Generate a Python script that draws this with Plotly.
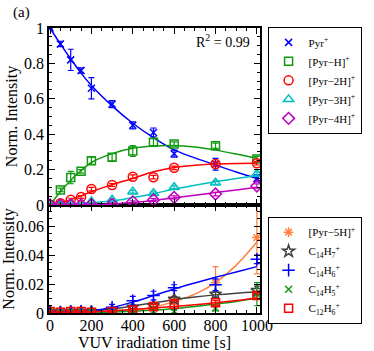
import plotly.graph_objects as go

# measured time points [s]
t = [0, 50, 100, 150, 200, 300, 400, 500, 600, 800, 1000]
# fit curves at these times
tf = [0, 50, 100, 150, 200, 300, 400, 500, 600, 700, 800, 900, 1000]

# ---- top panel ----
pyr = [1.0, 0.91, 0.82, 0.76, 0.66, 0.57, 0.45, 0.41, 0.29, 0.23, 0.15]
pyr_err = [0.005, 0.015, 0.06, 0.015, 0.06, 0.02, 0.02, 0.025, 0.02, 0.033, 0.02]
pyr_fit = [1.0, 0.91, 0.825, 0.745, 0.675, 0.56, 0.462, 0.38, 0.311, 0.266, 0.226, 0.186, 0.15]

pyr_h = [0.0, 0.085, 0.155, 0.19, 0.25, 0.27, 0.305, 0.355, 0.345, 0.335, 0.26]
pyr_h_err = [0.005, 0.01, 0.035, 0.01, 0.02, 0.02, 0.03, 0.02, 0.012, 0.015, 0.015]
pyr_h_fit = [0.0, 0.075, 0.14, 0.195, 0.24, 0.29, 0.32, 0.333, 0.336, 0.327, 0.31, 0.288, 0.264]

pyr_2h = [0.0, 0.01, 0.03, 0.045, 0.09, 0.113, 0.16, 0.157, 0.21, 0.232, 0.236]
pyr_2h_err = [0.005, 0.005, 0.008, 0.008, 0.01, 0.008, 0.01, 0.01, 0.01, 0.012, 0.01]
pyr_2h_fit = [0.0, 0.012, 0.03, 0.052, 0.075, 0.115, 0.15, 0.188, 0.212, 0.224, 0.231, 0.235, 0.236]

pyr_3h = [0.0, 0.0, 0.002, 0.005, 0.02, 0.03, 0.075, 0.066, 0.1, 0.126, 0.175]
pyr_3h_err = [0.003, 0.003, 0.003, 0.004, 0.005, 0.006, 0.008, 0.008, 0.008, 0.01, 0.012]
pyr_3h_fit = [0.0, 0.001, 0.003, 0.008, 0.013, 0.022, 0.042, 0.064, 0.09, 0.112, 0.132, 0.15, 0.165]

pyr_4h = [0.0, 0.0, 0.0, 0.0, 0.002, 0.005, 0.018, 0.028, 0.043, 0.062, 0.107]
pyr_4h_err = [0.003, 0.003, 0.003, 0.003, 0.004, 0.005, 0.006, 0.008, 0.008, 0.01, 0.012]
pyr_4h_fit = [0.0, 0.0, 0.0, 0.001, 0.002, 0.006, 0.015, 0.026, 0.04, 0.055, 0.07, 0.085, 0.1]

# ---- bottom panel ----
pyr_5h = [0.0005, 0.0005, 0.0005, 0.0005, 0.0005, 0.001, 0.002, 0.003, 0.008, 0.021, 0.052]
pyr_5h_err = [0.0003, 0.0003, 0.0003, 0.0003, 0.0003, 0.0005, 0.001, 0.001, 0.002, 0.011, 0.025]
pyr_5h_fit = [0.0, 0.0, 0.0, 0.0002, 0.0004, 0.001, 0.002, 0.004, 0.008, 0.013, 0.021, 0.033, 0.049]

c14h7 = [0.001, 0.0005, 0.001, 0.001, 0.001, 0.002, 0.004, 0.005, 0.0095, 0.013, 0.0155]
c14h7_err = [0.0005, 0.0005, 0.0005, 0.0005, 0.0005, 0.001, 0.001, 0.001, 0.002, 0.002, 0.003]
c14h7_fit = [0.0, 0.0002, 0.0004, 0.0008, 0.0013, 0.0028, 0.0048, 0.007, 0.0092, 0.011, 0.0125, 0.0137, 0.0147]

c14h6 = [0.001, 0.0005, 0.001, 0.001, 0.0005, 0.004, 0.0085, 0.012, 0.0175, 0.0195, 0.037]
c14h6_err = [0.0005, 0.0005, 0.0005, 0.0005, 0.0005, 0.002, 0.003, 0.003, 0.002, 0.004, 0.003]
c14h6_fit = [0.0003, 0.0003, 0.0005, 0.0009, 0.0015, 0.0038, 0.0075, 0.012, 0.0166, 0.0207, 0.0246, 0.0283, 0.032]

c14h5 = [0.0005, 0.0002, 0.0005, 0.0005, 0.0003, 0.0005, 0.0005, 0.001, 0.001, 0.0035, 0.013]
c14h5_err = [0.0003, 0.0003, 0.0003, 0.0003, 0.0003, 0.0005, 0.0005, 0.001, 0.001, 0.002, 0.008]
c14h5_fit = [0.0, 0.0, 0.0, 0.0, 0.0002, 0.0006, 0.0012, 0.002, 0.003, 0.0045, 0.0062, 0.008, 0.0101]

c12h6 = [0.001, 0.0005, 0.001, 0.001, 0.0005, 0.001, 0.002, 0.0045, 0.006, 0.007, 0.012]
c12h6_err = [0.0005, 0.0005, 0.0005, 0.0005, 0.0005, 0.0005, 0.001, 0.0015, 0.003, 0.0015, 0.002]
c12h6_fit = [0.0, 0.0002, 0.0003, 0.0005, 0.0008, 0.0015, 0.0024, 0.0034, 0.0045, 0.0057, 0.007, 0.0086, 0.0104]

FONT = "Liberation Serif"

top = [
    ("Pyr<sup>+</sup>", pyr, pyr_err, pyr_fit, "#0000ff", "x-thin-open", 7),
    ("[Pyr\u2212H]<sup>+</sup>", pyr_h, pyr_h_err, pyr_h_fit, "#119911", "square-open", 8),
    ("[Pyr\u22122H]<sup>+</sup>", pyr_2h, pyr_2h_err, pyr_2h_fit, "#ff0000", "circle-open", 9),
    ("[Pyr\u22123H]<sup>+</sup>", pyr_3h, pyr_3h_err, pyr_3h_fit, "#00bfbf", "triangle-up-open", 9),
    ("[Pyr\u22124H]<sup>+</sup>", pyr_4h, pyr_4h_err, pyr_4h_fit, "#bf00bf", "diamond-open", 9),
]
bottom = [
    ("[Pyr\u22125H]<sup>+</sup>", pyr_5h, pyr_5h_err, pyr_5h_fit, "#ff7f3f", "asterisk-open", 8),
    ("C<sub>14</sub>H<sub>7</sub><sup>+</sup>", c14h7, c14h7_err, c14h7_fit, "#404040", "star-open", 9),
    ("C<sub>14</sub>H<sub>6</sub><sup>+</sup>", c14h6, c14h6_err, c14h6_fit, "#0000ff", "cross-thin-open", 9),
    ("C<sub>14</sub>H<sub>5</sub><sup>+</sup>", c14h5, c14h5_err, c14h5_fit, "#119911", "x-thin-open", 7),
    ("C<sub>12</sub>H<sub>6</sub><sup>+</sup>", c12h6, c12h6_err, c12h6_fit, "#ff0000", "square-open", 8),
]

fig = go.Figure()


def add_series(rows, xa, ya, leg):
    for name, y, err, fit, col, sym, size in rows:
        fig.add_trace(go.Scatter(x=tf, y=fit, mode="lines", line=dict(color=col, width=1.5, shape="spline"),
                                 xaxis=xa, yaxis=ya, showlegend=False, hoverinfo="skip"))
        fig.add_trace(go.Scatter(x=t, y=y, mode="markers", name=name, xaxis=xa, yaxis=ya, legend=leg,
                                 marker=dict(symbol=sym, size=size, color=col, line=dict(width=1.5, color=col)),
                                 error_y=dict(type="data", array=err, color=col, thickness=1.2, width=3)))


add_series(top, "x2", "y2", "legend")
add_series(bottom, "x", "y", "legend2")

axis_common = dict(showline=True, linecolor="black", linewidth=1.5, mirror="allticks", ticks="inside",
                   ticklen=6, tickwidth=1, tickcolor="black", zeroline=False, showgrid=False,
                   automargin=False, tickfont=dict(family=FONT, size=16, color="black"))
split = 0.379

fig.update_layout(
    width=374, height=351,
    margin=dict(l=49, r=114, t=28, b=38, autoexpand=False),
    paper_bgcolor="white", plot_bgcolor="white",
    font=dict(family=FONT, size=15, color="black"),
    xaxis=dict(domain=[0, 1], anchor="y", range=[-5, 1015], dtick=200, ticklabelstandoff=-3,
               minor=dict(ticks="inside", ticklen=3, dtick=50, tickcolor="black"),
               title=dict(text="VUV iradiation time [s]", font=dict(family=FONT, size=16), standoff=5),
               **axis_common),
    yaxis=dict(domain=[0, split], anchor="x", range=[0, 0.0745], dtick=0.02,
               minor=dict(ticks="inside", ticklen=3, dtick=0.005, tickcolor="black"),
               title=dict(text="Norm. Intensity", font=dict(family=FONT, size=16), standoff=2),
               **axis_common),
    xaxis2=dict(domain=[0, 1], anchor="y2", matches="x", range=[-5, 1015], dtick=200, showticklabels=False,
                minor=dict(ticks="inside", ticklen=3, dtick=50, tickcolor="black"),
                **axis_common),
    yaxis2=dict(domain=[split, 1], anchor="x2", range=[0, 1.0], dtick=0.2,
                minor=dict(ticks="inside", ticklen=3, dtick=0.05, tickcolor="black"),
                title=dict(text="Norm. Intensity", font=dict(family=FONT, size=16), standoff=2),
                **axis_common),
    legend=dict(x=1.036, y=1.004, xanchor="left", yanchor="top", bordercolor="black", borderwidth=1,
                font=dict(family=FONT, size=11), tracegroupgap=0, itemwidth=30),
    legend2=dict(x=1.036, y=0.338, xanchor="left", yanchor="top", bordercolor="black", borderwidth=1,
                 font=dict(family=FONT, size=11), tracegroupgap=0, itemwidth=30),
    annotations=[
        dict(text="(a)", x=-0.18, y=1.055, xref="paper", yref="paper", showarrow=False,
             xanchor="left", yanchor="middle", font=dict(family=FONT, size=15)),
        dict(text="R<sup>2</sup> = 0.99", x=0.962, y=0.954, xref="paper", yref="paper", showarrow=False,
             xanchor="right", yanchor="middle", font=dict(family=FONT, size=14)),
    ],
)

# drop the default page margin so the figure sits at the window's corner
fig.write_html("out.html", config={"displayModeBar": False},
               post_script="document.body.style.margin='0';")
